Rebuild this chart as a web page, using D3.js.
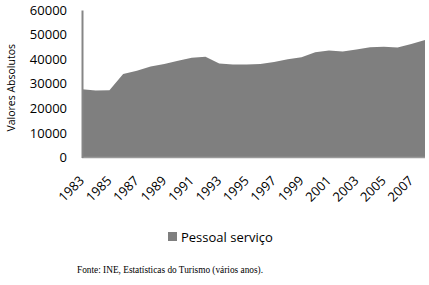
<!DOCTYPE html>
<html>
<head>
<meta charset="utf-8">
<script src="https://cdn.jsdelivr.net/npm/d3@7"></script>
<style>
  body { margin: 0; background: #fff; }
  svg text { font-family: "Open Sans", sans-serif; fill: #000; }
</style>
</head>
<body>
<div id="chart"></div>
<script>
// data
const years = d3.range(1983, 2009);
const pessoal = [27800, 27300, 27400, 34000, 35300, 37000, 38000, 39400, 40600,
  41000, 38200, 37800, 37800, 38000, 38800, 40000, 40800, 42800, 43500, 43100,
  43900, 44800, 45100, 44700, 46200, 47800];
const yTicks = [0, 10000, 20000, 30000, 40000, 50000, 60000];
const xTickYears = years.filter(y => (y - 1983) % 2 === 0 && y < 2008);
const seriesName = "Pessoal serviço";
const sourceNote = "Fonte: INE, Estatísticas do Turismo (vários anos).";

const width = 429, height = 285;
const margin = {top: 10, right: 4, bottom: 127.5, left: 82};

const svg = d3.select("#chart")
  .append("svg")
    .attr("width", width)
    .attr("height", height);

const x = d3.scaleLinear()
  .domain([1983, 2008])
  .range([margin.left, width - margin.right]);

const y = d3.scaleLinear()
  .domain([0, 60000])
  .range([height - margin.bottom, margin.top]);

// area
const data = years.map((yr, i) => ({year: yr, v: pessoal[i]}));
svg.append("path")
  .datum(data)
  .attr("fill", "#7f7f7f")
  .attr("d", d3.area()
    .x(d => x(d.year))
    .y0(y(0))
    .y1(d => y(d.v)));

// bottom axis line
svg.append("line")
  .attr("x1", x(1983)).attr("x2", x(2008))
  .attr("y1", y(0)).attr("y2", y(0))
  .attr("stroke", "#9a9a9a")
  .attr("stroke-width", 1.5);

// left axis
const yAxis = svg.append("g")
  .attr("transform", `translate(${margin.left},0)`)
  .call(d3.axisLeft(y).tickValues(yTicks).tickSize(0).tickPadding(15).tickFormat(d3.format("d")));
yAxis.select(".domain").attr("stroke", "#868686").attr("stroke-width", 2);
yAxis.selectAll("text").style("font-size", "13px").attr("fill", "#000");

// x tick labels, rotated
svg.append("g")
  .selectAll("text")
  .data(xTickYears)
  .join("text")
    .attr("transform", d => `translate(${x(d) + 3},${y(0) + 24}) rotate(-45)`)
    .attr("text-anchor", "end")
    .style("font-size", "13px")
    .text(d => d);

// y title
svg.append("text")
  .attr("transform", `translate(15,${(y(0) + y(60000)) / 2 + 4}) rotate(-90)`)
  .attr("text-anchor", "middle")
  .style("font-size", "10.5px")
  .text("Valores Absolutos");

// legend
svg.append("rect")
  .attr("x", 168).attr("y", 232)
  .attr("width", 9).attr("height", 9)
  .attr("fill", "#7f7f7f");
svg.append("text")
  .attr("x", 181).attr("y", 241.5)
  .style("font-size", "13px")
  .text(seriesName);

// source note
svg.append("text")
  .attr("x", 77).attr("y", 273)
  .style("font-family", "'Liberation Serif', serif")
  .style("font-size", "10px")
  .attr("textLength", 186)
  .attr("lengthAdjust", "spacingAndGlyphs")
  .text(sourceNote);
</script>
</body>
</html>
